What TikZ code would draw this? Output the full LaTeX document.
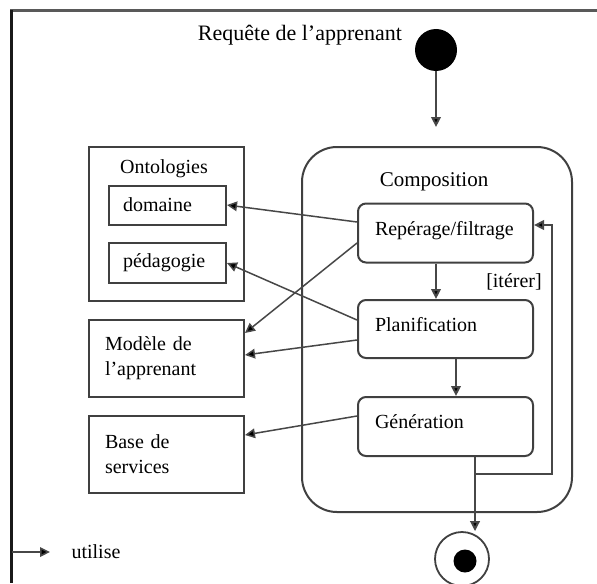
\documentclass[tikz,border=0pt]{standalone}
\usepackage{fontspec}
\setmainfont{Liberation Serif}
\usetikzlibrary{arrows.meta}
\usetikzlibrary{shapes,positioning}
\colorlet{penColor}{black!75}
\colorlet{lineColor}{black!72}
\colorlet{frameTop}{black!65}
\colorlet{frameLeft}{black!90}
\tikzset{>={Triangle[length=5pt,width=4.8pt,fill=black]},
  store/.style={draw=penColor,line width=1pt,minimum width=77.5pt,minimum height=38.5pt,
    inner xsep=8pt,text width=61.5pt,align=left},
  sub/.style={draw=penColor,line width=1pt,minimum width=58.5pt,minimum height=19.5pt,
    inner xsep=7pt,text width=44.5pt,align=left},
  act/.style={draw=penColor,line width=1pt,rounded corners=4pt,minimum width=87.5pt,
    minimum height=29.5pt,inner xsep=8.5pt,text width=70.5pt,align=left,
    text height=7pt,text depth=5pt},
  compo/.style={draw=penColor,line width=1pt,rounded corners=17.5pt,minimum width=135pt,
    minimum height=182.5pt},
  flow/.style={->,draw=lineColor,line width=1pt},
  uses/.style={->,draw=lineColor,line width=0.75pt}}

\begin{document}
\begin{tikzpicture}[x=0.5pt,y=-0.5pt,font=\fontsize{10}{12.5}\selectfont]
    \useasboundingbox (0,0) rectangle (597,583);
    % cadre
    \draw[frameTop,line width=1.5pt] (10,11) -- (597,11);
    \draw[frameLeft,line width=1.5pt] (11,10) -- (11,583);

    % depart
    \node[font=\fontsize{11}{13}\selectfont] (req) at (300,35) {Requête de l'apprenant};
    \node[circle,fill=black,minimum size=21pt,inner sep=0pt] (start) at (436,50) {};
    \coordinate (entry) at (436,127);

    % composition
    \node[compo] (compo) at (437,329.5) {};
    \node[font=\fontsize{10.5}{13}\selectfont] (compoLbl) at (434,182) {Composition};
    \node[act] (rep) at (445.5,233) {Repérage/filtrage};
    \node[act,minimum height=29pt] (plan) at (445.5,329) {Planification};
    \node[act] (gen) at (445.5,426.5) {Génération};
    \node (iter) at (514,282) {[itérer]};

    % ressources
    \node[store,minimum height=77pt] (onto) at (166.5,224) {};
    \node (ontoLbl) at (164,169) {Ontologies};
    \node[sub] (dom) at (167.5,205) {domaine};
    \node[sub,minimum height=20pt] (ped) at (167.5,263) {pédagogie};
    \node[store] (mod) at (166.5,358.5) {Modèle de\\l'apprenant};
    \node[store] (base) at (166.5,454.5) {Base de\\services};

    % fin
    \node[circle,draw=penColor,line width=0.9pt,minimum size=27pt,inner sep=0pt] (end) at (462,559) {};
    \node[circle,fill=black,minimum size=11.5pt,inner sep=0pt] (endDot) at (465,561) {};
    \coordinate (genOut) at ([xshift=14.75pt]gen.south);
    \coordinate (loop) at (552,474);

    % enchainement
    \draw[flow] (start) -- (entry);
    \draw[flow] ([xshift=-4.75pt]rep.south) -- ([xshift=-4.75pt]plan.north);
    \draw[flow] ([xshift=5.25pt]plan.south) -- ([xshift=5.25pt]gen.north);
    \draw[flow] (genOut) -- (genOut |- end.north);
    \draw[flow] (genOut |- loop) -- (loop) |- ([yshift=4pt]rep.east);

    % utilise
    \draw[uses] ([yshift=5.5pt]rep.west) -- (dom.east);
    \draw[uses] ([yshift=4.5pt]plan.west) -- (ped.east);
    \draw[uses] ([yshift=-5pt]rep.west) -- ([yshift=12.75pt]mod.east);
    \draw[uses] ([yshift=-5.5pt]plan.west) -- ([yshift=1.75pt]mod.east);
    \draw[uses] ([yshift=5.25pt]gen.west) -- ([yshift=9.75pt]base.east);

    % legende
    \coordinate (legA) at (12,552);
    \coordinate (legB) at (50,552);
    \draw[uses] (legA) -- (legB);
    \node (legLbl) at (96,552) {utilise};
\end{tikzpicture}
\end{document}
